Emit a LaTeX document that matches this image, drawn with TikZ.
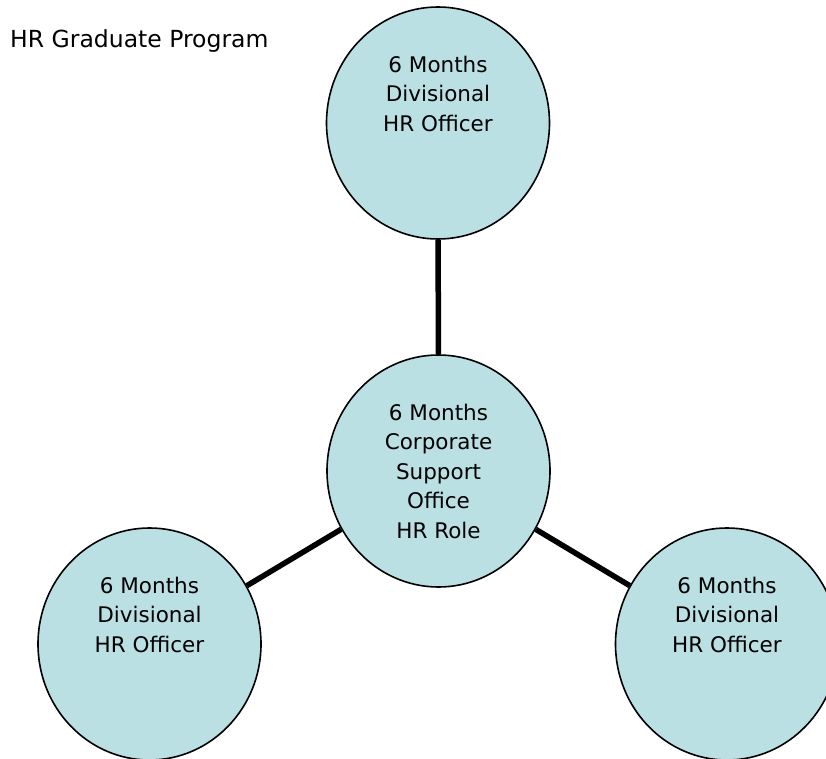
\documentclass[tikz,border=0pt]{standalone}
\usepackage{fontspec}
\setmainfont{DejaVu Sans}
\usepackage{tikz}
\usetikzlibrary{shapes.geometric}
\definecolor{bubble}{HTML}{BBE0E3}

\begin{document}
\begin{tikzpicture}[x=1pt,y=1pt,
        rotation/.style={draw,line width=1.6pt,fill=bubble,ellipse,inner sep=0pt,minimum width=223pt,minimum height=232pt,align=center,font={\fontsize{21.5}{29.5}\selectfont}},
        link/.style={line width=5.5pt}
    ]

    \useasboundingbox (0,0) rectangle (826,758);

    \node[anchor=base west,inner sep=0pt,font={\fontsize{23.5}{28}\selectfont}] (title) at (10,710) {HR Graduate Program};

    \node[rotation] (centre) at (438.5,287) {6 Months\\Corporate\\Support\\Office\\HR Role};
    \node[rotation] (divtop) at (438,635) {6 Months\\Divisional\\HR Officer\\\mbox{}\\\mbox{}};
    \node[rotation] (divleft) at (149.5,114) {6 Months\\Divisional\\HR Officer\\\mbox{}\\\mbox{}};
    \node[rotation] (divright) at (727,114) {6 Months\\Divisional\\HR Officer\\\mbox{}\\\mbox{}};

    \draw[link] (centre) -- (divtop);
    \draw[link] (centre) -- (divleft);
    \draw[link] (centre) -- (divright);

\end{tikzpicture}
\end{document}
